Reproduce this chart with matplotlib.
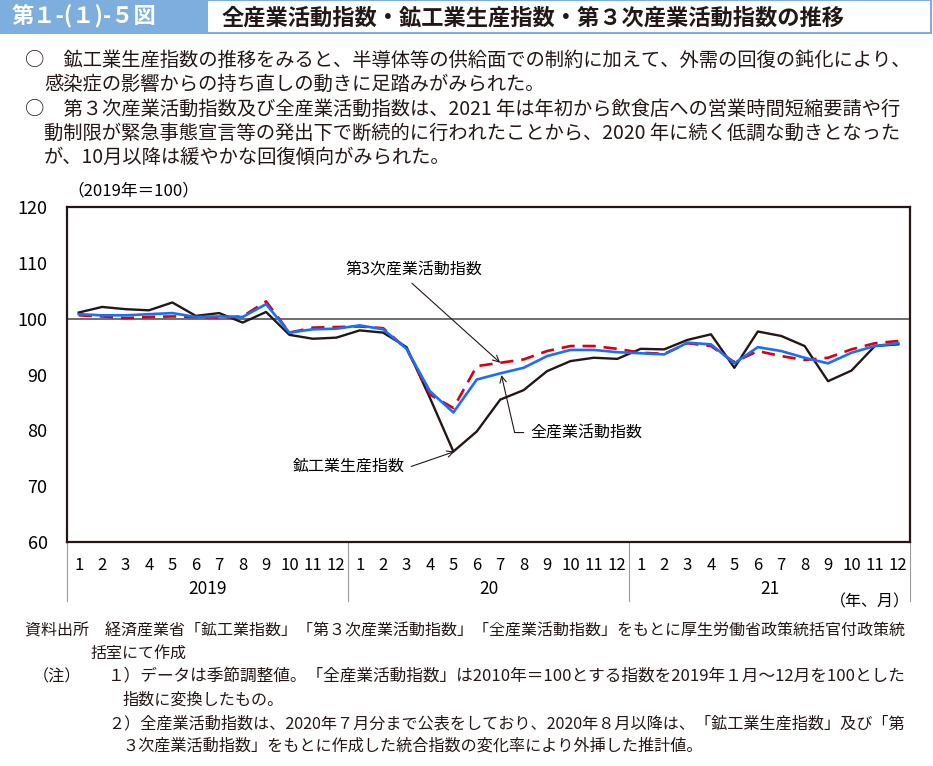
import matplotlib
matplotlib.use("Agg")
import matplotlib.pyplot as plt
from matplotlib.patches import Rectangle
import numpy as np

plt.rcParams['font.family'] = ['Noto Sans CJK JP', 'DejaVu Sans']

# data (2019=100), Jan 2019 - Dec 2021
years = ["2019", "20", "21"]
month_labels = [str(m) for m in range(1, 13)] * 3
mining = [101.1, 102.1, 101.7, 101.5, 102.9, 100.5, 101.0, 99.3, 101.2, 97.1, 96.4, 96.6,
          97.9, 97.5, 94.9, 85.8, 76.2, 79.8, 85.5, 87.2, 90.6, 92.4, 93.0, 92.8,
          94.6, 94.5, 96.2, 97.2, 91.2, 97.7, 96.9, 95.1, 88.8, 90.7, 95.1, 95.4]
tertiary = [100.6, 100.4, 100.1, 100.3, 100.4, 100.3, 100.2, 100.4, 103.1, 97.5, 98.4, 98.5,
            98.6, 98.3, 94.6, 86.4, 84.0, 91.5, 92.1, 92.7, 94.2, 95.1, 95.1, 94.6,
            93.9, 93.7, 95.6, 95.1, 92.2, 94.2, 93.3, 92.6, 93.0, 94.5, 95.6, 96.0]
all_industry = [100.8, 100.6, 100.6, 100.8, 101.0, 100.3, 100.4, 100.3, 102.6, 97.5, 98.1, 98.2,
                98.8, 98.1, 94.6, 87.0, 83.2, 89.1, 90.2, 91.2, 93.3, 94.4, 94.4, 94.0,
                93.8, 93.6, 95.7, 95.4, 92.0, 94.9, 94.2, 93.0, 92.0, 93.9, 95.1, 95.6]

W, H = 933, 766
fig = plt.figure(figsize=(W / 100, H / 100), dpi=100)

def px(x, y):
    return x / W, 1 - y / H

# header
fig.patches.append(Rectangle(px(0, 34), 207 / W, 34 / H, transform=fig.transFigure,
                             facecolor='#7DAEDE', edgecolor='none'))
fig.patches.append(Rectangle(px(207, 33), 724 / W, 33 / H, transform=fig.transFigure,
                             facecolor='white', edgecolor='#7DAEDE', lw=1.5))
fig.text(*px(12, 17), "第１-(１)-５図", color='white', fontsize=16, va='center', weight='bold')
fig.text(*px(222, 18), "全産業活動指数・鉱工業生産指数・第３次産業活動指数の推移",
         fontsize=16, va='center', weight='bold', color='#231815')

body = [
    (25, 60, "○　鉱工業生産指数の推移をみると、半導体等の供給面での制約に加えて、外需の回復の鈍化により、"),
    (44, 84, "感染症の影響からの持ち直しの動きに足踏みがみられた。"),
    (25, 109, "○　第３次産業活動指数及び全産業活動指数は、2021 年は年初から飲食店への営業時間短縮要請や行"),
    (44, 133, "動制限が緊急事態宣言等の発出下で断続的に行われたことから、2020 年に続く低調な動きとなった"),
    (44, 157, "が、10月以降は緩やかな回復傾向がみられた。"),
]
for x, y, s in body:
    fig.text(*px(x, y), s, fontsize=13.9, va='center', color='#231815')

# chart
ax = fig.add_axes([67 / W, 1 - 542 / H, 843 / W, 335 / H])
x = np.arange(len(mining))
ax.axhline(100, color='#555555', lw=1.2, zorder=1)
ax.plot(x, mining, color='#231815', lw=1.7, zorder=2)
ax.plot(x, tertiary, color='#D7000F', lw=1.9, ls=(0, (5, 3)), zorder=3)
ax.plot(x, all_industry, color='#1A6EFF', lw=1.9, zorder=4)

ax.set_xlim(-0.5, 35.5)
ax.set_ylim(60, 120)
ax.set_yticks(range(60, 121, 10))
ax.tick_params(axis='y', length=0, pad=14, labelsize=13)
ax.set_xticks(x)
ax.set_xticklabels(month_labels, fontsize=12)
ax.tick_params(axis='x', length=0, pad=11)
for s in ax.spines.values():
    s.set_color('#231815')
    s.set_linewidth(1.6)

tr = ax.get_xaxis_transform()
for xs in [-0.5, 11.5, 23.5, 35.5]:
    ax.plot([xs, xs], [0, -0.175], transform=tr, color='#999999', lw=0.8, clip_on=False)
for i, yr in enumerate(years):
    ax.text(5.5 + 12 * i, -0.14, yr, transform=tr, ha='center', va='center', fontsize=12.5)
ax.text(35.5, -0.18, "（年、月）", transform=tr, ha='right', va='center', fontsize=11.5)
ax.text(0.0, 1.048, "（2019年＝100）", transform=ax.transAxes, fontsize=12, va='center')

arrow = dict(arrowstyle='->', color='#231815', lw=0.8, shrinkA=2, shrinkB=0)
ax.annotate("第3次産業活動指数", xy=(18, tertiary[18]), xytext=(14.3, 108.7),
            fontsize=11.5, ha='center', va='center',
            arrowprops=dict(arrow, relpos=(0.45, 0)))
ax.annotate("全産業活動指数", xy=(18.05, all_industry[18] - 0.3), xytext=(19.3, 79.6),
            fontsize=11.5, ha='left', va='center',
            arrowprops=dict(arrow, relpos=(0, 0.5), shrinkA=3,
                            connectionstyle="angle,angleA=0,angleB=103,rad=0"))
ax.annotate("鉱工業生産指数", xy=(16.05, mining[16]), xytext=(13.9, 73.5),
            fontsize=11.5, ha='right', va='center',
            arrowprops=dict(arrow, relpos=(1, 0.5), shrinkA=3,
                            connectionstyle="angle,angleA=0,angleB=19,rad=0"))

notes = [
    (25, 631, 11.55, "資料出所　経済産業省「鉱工業指数」「第３次産業活動指数」「全産業活動指数」をもとに厚生労働省政策統括官付政策統"),
    (90, 653, 11.55, "括室にて作成"),
    (33, 677, 11.6, "（注）"),
    (108, 677, 12.0, "１）データは季節調整値。「全産業活動指数」は2010年＝100とする指数を2019年１月～12月を100とした"),
    (122, 700, 11.6, "指数に変換したもの。"),
    (108, 724, 11.6, "２）全産業活動指数は、2020年７月分まで公表をしており、2020年８月以降は、「鉱工業生産指数」及び「第"),
    (122, 746, 11.6, "３次産業活動指数」をもとに作成した統合指数の変化率により外挿した推計値。"),
]
for xn, yn, fs, s in notes:
    fig.text(*px(xn, yn), s, fontsize=fs, va='center', color='#231815')

fig.savefig("out.png", dpi=100)
